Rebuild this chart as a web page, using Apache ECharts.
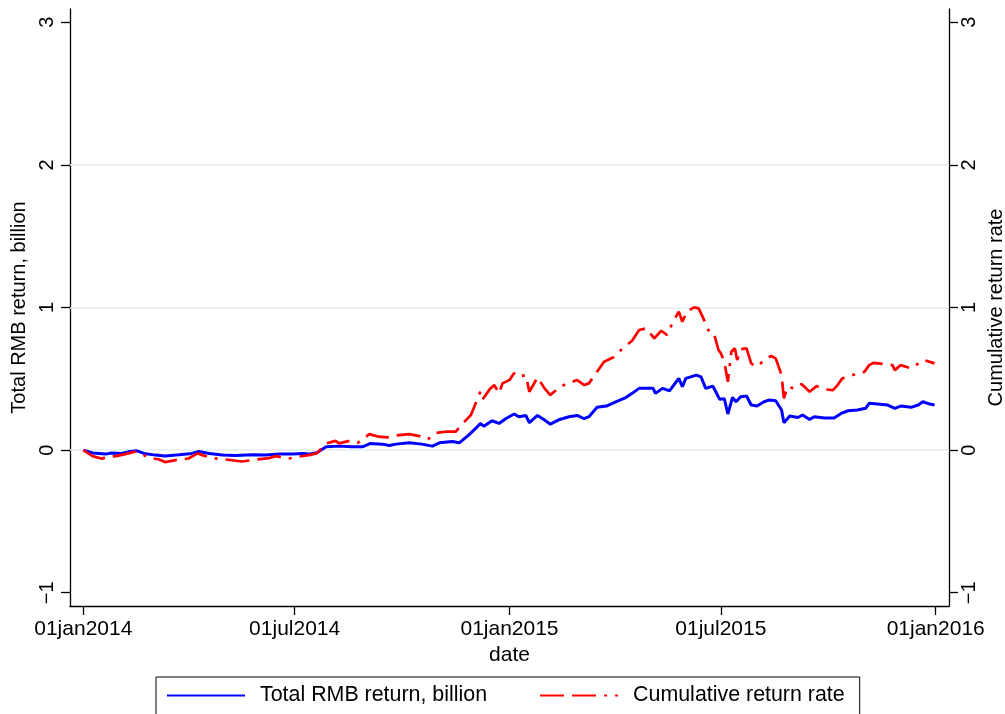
<!DOCTYPE html>
<html>
<head>
<meta charset="utf-8">
<title>Total RMB return and cumulative return rate</title>
<script src="https://cdn.jsdelivr.net/npm/echarts@6/dist/echarts.min.js"></script>
<style>
  html, body { margin: 0; padding: 0; background: #ffffff; }
  #chart { width: 1005px; height: 714px; }
</style>
</head>
<body>
<div id="chart"></div>
<script>
// Daily series, sampled: total RMB return (billion) and cumulative return rate
const rmbDates = [
  '2014-01-01','2014-01-09','2014-01-20','2014-01-25','2014-02-03','2014-02-10','2014-02-16','2014-02-22',
  '2014-03-04','2014-03-12','2014-03-24','2014-04-04','2014-04-10','2014-04-19','2014-04-30','2014-05-11',
  '2014-05-26','2014-06-06','2014-06-18','2014-06-29','2014-07-08','2014-07-13','2014-07-20','2014-07-28',
  '2014-08-08','2014-08-19','2014-08-28','2014-09-04','2014-09-14','2014-09-20','2014-09-26','2014-10-07',
  '2014-10-18','2014-10-27','2014-11-02','2014-11-13','2014-11-19','2014-11-27','2014-12-03','2014-12-07',
  '2014-12-10','2014-12-17','2014-12-23','2014-12-29','2015-01-05','2015-01-09','2015-01-15','2015-01-18',
  '2015-01-25','2015-01-31','2015-02-05','2015-02-13','2015-02-21','2015-02-28','2015-03-06','2015-03-10',
  '2015-03-17','2015-03-25','2015-04-02','2015-04-11','2015-04-16','2015-04-22','2015-04-28','2015-05-04',
  '2015-05-06','2015-05-12','2015-05-18','2015-05-26','2015-05-29','2015-06-01','2015-06-10','2015-06-14',
  '2015-06-18','2015-06-24','2015-06-26','2015-06-30','2015-07-04','2015-07-07','2015-07-11','2015-07-14',
  '2015-07-18','2015-07-23','2015-07-27','2015-08-01','2015-08-07','2015-08-11','2015-08-17','2015-08-22',
  '2015-08-24','2015-08-29','2015-09-05','2015-09-09','2015-09-15','2015-09-19','2015-09-28','2015-10-06',
  '2015-10-12','2015-10-18','2015-10-26','2015-11-02','2015-11-05','2015-11-12','2015-11-21','2015-11-27',
  '2015-12-02','2015-12-11','2015-12-17','2015-12-21','2015-12-27','2015-12-31'
];
const rmbValues = [
  0, -0.02, -0.028, -0.02, -0.023, -0.01, -0.005, -0.023,
  -0.035, -0.042, -0.033, -0.023, -0.01, -0.023, -0.035, -0.037,
  -0.033, -0.035, -0.028, -0.028, -0.023, -0.028, -0.019, 0.023,
  0.028, 0.023, 0.023, 0.047, 0.042, 0.033, 0.042, 0.051,
  0.042, 0.028, 0.051, 0.061, 0.051, 0.105, 0.152, 0.187,
  0.168, 0.206, 0.187, 0.222, 0.253, 0.234, 0.243, 0.192,
  0.243, 0.211, 0.182, 0.215, 0.234, 0.243, 0.22, 0.234,
  0.3, 0.309, 0.339, 0.37, 0.398, 0.433, 0.433, 0.433,
  0.398, 0.433, 0.416, 0.503, 0.444, 0.503, 0.526, 0.514,
  0.433, 0.449, 0.42, 0.356, 0.36, 0.253, 0.37, 0.339,
  0.374, 0.379, 0.316, 0.309, 0.339, 0.351, 0.346, 0.281,
  0.192, 0.239, 0.229, 0.246, 0.215, 0.234, 0.225, 0.225,
  0.257, 0.276, 0.281, 0.293, 0.328, 0.323, 0.316, 0.293,
  0.309, 0.3, 0.316, 0.339, 0.323, 0.316
];

const rateDates = [
  '2014-01-01','2014-01-09','2014-01-17','2014-01-20','2014-01-29','2014-02-06','2014-02-15','2014-02-19',
  '2014-02-25','2014-03-07','2014-03-12','2014-03-21','2014-04-01','2014-04-09','2014-04-13','2014-04-21',
  '2014-05-03','2014-05-17','2014-05-29','2014-06-09','2014-06-15','2014-06-23','2014-06-26','2014-07-05',
  '2014-07-13','2014-07-20','2014-07-28','2014-08-05','2014-08-08','2014-08-17','2014-08-24','2014-09-03',
  '2014-09-11','2014-09-18','2014-09-26','2014-10-07','2014-10-16','2014-10-23','2014-10-30','2014-11-07',
  '2014-11-16','2014-11-22','2014-11-29','2014-12-03','2014-12-07','2014-12-09','2014-12-15','2014-12-19',
  '2014-12-23','2014-12-26','2015-01-01','2015-01-05','2015-01-08','2015-01-15','2015-01-18','2015-01-25',
  '2015-01-31','2015-02-05','2015-02-13','2015-02-21','2015-02-28','2015-03-06','2015-03-10','2015-03-16',
  '2015-03-23','2015-03-31','2015-04-08','2015-04-16','2015-04-22','2015-04-28','2015-05-05','2015-05-11',
  '2015-05-16','2015-05-21','2015-05-26','2015-05-29','2015-06-02','2015-06-08','2015-06-12','2015-06-16',
  '2015-06-21','2015-06-25','2015-06-29','2015-07-01','2015-07-04','2015-07-07','2015-07-10','2015-07-13',
  '2015-07-15','2015-07-18','2015-07-23','2015-07-27','2015-07-31','2015-08-04','2015-08-09','2015-08-13',
  '2015-08-17','2015-08-22','2015-08-24','2015-08-27','2015-09-02','2015-09-08','2015-09-12','2015-09-15',
  '2015-09-21','2015-09-28','2015-10-05','2015-10-09','2015-10-13','2015-10-18','2015-10-26','2015-11-01',
  '2015-11-05','2015-11-09','2015-11-18','2015-11-25','2015-11-27','2015-12-02','2015-12-11','2015-12-18',
  '2015-12-22','2015-12-31'
];
const rateValues = [
  0, -0.042, -0.061, -0.05, -0.042, -0.028, -0.01, -0.02,
  -0.051, -0.066, -0.084, -0.07, -0.059, -0.023, -0.035, -0.056,
  -0.066, -0.08, -0.066, -0.056, -0.042, -0.056, -0.059, -0.045,
  -0.035, -0.023, 0.047, 0.065, 0.047, 0.065, 0.051, 0.112,
  0.094, 0.089, 0.103, 0.112, 0.098, 0.075, 0.121, 0.129,
  0.129, 0.187, 0.246, 0.328, 0.409, 0.356, 0.426, 0.456,
  0.398, 0.468, 0.491, 0.54, 0.514, 0.526, 0.409, 0.51,
  0.433, 0.386, 0.444, 0.472, 0.491, 0.456, 0.468, 0.538,
  0.62, 0.651, 0.714, 0.767, 0.842, 0.854, 0.784, 0.837,
  0.807, 0.9, 0.971, 0.9, 0.971, 1.001, 0.994, 0.924,
  0.83, 0.819, 0.702, 0.679, 0.62, 0.479, 0.69, 0.714,
  0.632, 0.707, 0.714, 0.608, 0.585, 0.608, 0.643, 0.66,
  0.643, 0.526, 0.363, 0.444, 0.433, 0.463, 0.433, 0.409,
  0.449, 0.426, 0.421, 0.456, 0.503, 0.514, 0.538, 0.549,
  0.596, 0.612, 0.604, 0.596, 0.561, 0.596, 0.573, 0.612,
  0.632, 0.608
];

// Axis ticks
const xTickDates = ['2014-01-01', '2014-07-01', '2015-01-01', '2015-07-01', '2016-01-01'];
const yTicks = [-1, 0, 1, 2, 3];
const gridValues = [0, 1, 2];

const seriesNames = ['Total RMB return, billion', 'Cumulative return rate'];
const axisTitles = { left: 'Total RMB return, billion', right: 'Cumulative return rate', bottom: 'date' };

const DAY = 86400000;
const monthAbbr = ['jan','feb','mar','apr','may','jun','jul','aug','sep','oct','nov','dec'];
const toMs = s => Date.parse(s);
const fmtDate = v => {
  const d = new Date(v);
  const dd = String(d.getUTCDate()).padStart(2, '0');
  return dd + monthAbbr[d.getUTCMonth()] + d.getUTCFullYear();
};
const fmtNum = v => (v < 0 ? '\u2212' + Math.abs(v) : String(v));

const FONT = 'Liberation Sans, Arial, Helvetica, sans-serif';
const xTickMs = xTickDates.map(toMs);
const xMin = toMs('2014-01-01') - 11.4 * DAY;
const xMax = toMs('2016-01-01') + 11.4 * DAY;
const yMin = -1.093, yMax = 3.093;

const axisLineStyle = { color: '#000000', width: 1.3 };

function yAxisCfg(position, name, labelMargin, nameGap) {
  return {
    type: 'value',
    position: position,
    min: yMin,
    max: yMax,
    name: name,
    nameLocation: 'middle',
    nameGap: nameGap,
    nameRotate: 90,
    nameTextStyle: { fontFamily: FONT, fontSize: 20, color: '#000' },
    axisLine: { show: true, lineStyle: axisLineStyle },
    axisTick: { show: true, length: 9, customValues: yTicks, lineStyle: axisLineStyle },
    axisLabel: {
      show: true, rotate: 90, margin: labelMargin, customValues: yTicks,
      formatter: fmtNum, fontFamily: FONT, fontSize: 20, color: '#000'
    },
    splitLine: { show: false }
  };
}

const chart = echarts.init(document.getElementById('chart'), null, { renderer: 'canvas' });

chart.setOption({
  animation: false,
  backgroundColor: '#ffffff',
  grid: { left: 70, right: 56, top: 9, bottom: 108, containLabel: false, outerBoundsMode: 'none' },
  xAxis: {
    type: 'value',
    min: xMin,
    max: xMax,
    name: axisTitles.bottom,
    nameLocation: 'middle',
    nameGap: 33,
    nameTextStyle: { fontFamily: FONT, fontSize: 21, color: '#000' },
    axisLine: { show: true, onZero: false, lineStyle: axisLineStyle },
    axisTick: { show: true, length: 9, customValues: xTickMs, lineStyle: axisLineStyle },
    axisLabel: {
      show: true, margin: 13, customValues: xTickMs, formatter: fmtDate,
      fontFamily: FONT, fontSize: 21, color: '#000'
    },
    splitLine: { show: false }
  },
  yAxis: [
    yAxisCfg('left', axisTitles.left, 13, 27),
    yAxisCfg('right', axisTitles.right, 10, 30)
  ],
  legend: {
    left: 156,
    top: 677,
    orient: 'horizontal',
    itemWidth: 78,
    itemHeight: 14,
    itemGap: 52,
    padding: [8, 15, 12, 10],
    borderColor: '#000000',
    borderWidth: 1,
    borderRadius: 0,
    backgroundColor: '#ffffff',
    itemStyle: { opacity: 0 },
    textStyle: { fontFamily: FONT, fontSize: 21.4, color: '#000', padding: [0, 0, 0, 10] },
    data: seriesNames
  },
  series: [
    {
      name: seriesNames[0],
      type: 'line',
      yAxisIndex: 0,
      showSymbol: false,
      symbol: 'none',
      z: 3,
      lineStyle: { color: '#0000ff', width: 3 },
      itemStyle: { color: '#0000ff' },
      data: rmbDates.map((d, i) => [toMs(d), rmbValues[i]]),
      markLine: {
        silent: true,
        symbol: ['none', 'none'],
        z: 1,
        label: { show: false },
        lineStyle: { color: '#e3ecf0', width: 1.6, type: 'solid' },
        data: gridValues.map(v => ({ yAxis: v }))
      }
    },
    {
      name: seriesNames[1],
      type: 'line',
      yAxisIndex: 1,
      showSymbol: false,
      symbol: 'none',
      z: 4,
      lineStyle: { color: '#ff0000', width: 2.7, type: [24, 8, 24, 8, 3, 8], cap: 'butt' },
      itemStyle: { color: '#ff0000' },
      data: rateDates.map((d, i) => [toMs(d), rateValues[i]])
    }
  ]
});
</script>
</body>
</html>
